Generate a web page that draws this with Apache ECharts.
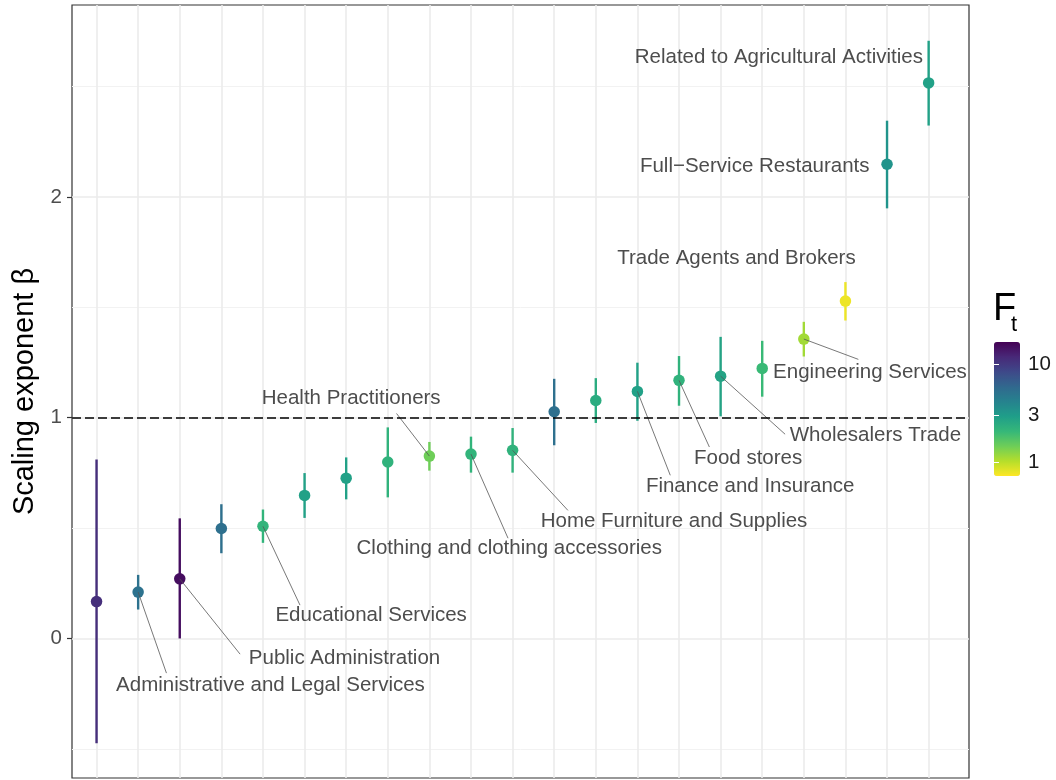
<!DOCTYPE html>
<html>
<head>
<meta charset="utf-8">
<script src="https://cdn.jsdelivr.net/npm/echarts@6/dist/echarts.min.js"></script>
<style>
html, body { margin: 0; padding: 0; background: #fff; }
#chart { width: 1056px; height: 780px; }
</style>
</head>
<body>
<div id="chart"></div>
<script>
'use strict';

// sectors sorted by scaling exponent (only some carry a label)
var sectors = [null, 'Administrative and Legal Services', 'Public Administration', null,
    'Educational Services', null, null, null, 'Health Practitioners',
    'Clothing and clothing accessories', 'Home Furniture and Supplies', null, null,
    'Finance and Insurance', 'Food stores', 'Wholesalers Trade', null,
    'Engineering Services', 'Trade Agents and Brokers', 'Full\u2212Service Restaurants',
    'Related to Agricultural Activities'];
var betas = [0.167, 0.21, 0.27, 0.498, 0.508, 0.648, 0.726, 0.799, 0.826, 0.835, 0.852,
    1.027, 1.078, 1.119, 1.169, 1.188, 1.223, 1.356, 1.528, 2.148, 2.516];
var lows = [-0.475, 0.131, 0.0, 0.386, 0.433, 0.546, 0.630, 0.639, 0.760, 0.751, 0.751,
    0.875, 0.976, 0.986, 1.054, 1.006, 1.095, 1.277, 1.440, 1.948, 2.323];
var highs = [0.811, 0.288, 0.544, 0.608, 0.584, 0.749, 0.820, 0.956, 0.890, 0.914, 0.953,
    1.176, 1.179, 1.249, 1.279, 1.366, 1.348, 1.434, 1.614, 2.345, 2.707];
var ft = [11, 5.1, 15, 5.3, 2.15, 2.8, 2.8, 2.2, 1.45, 2.15, 2.2,
    5.3, 2.4, 2.8, 2.2, 2.7, 2.0, 1.12, 0.78, 3.3, 2.8];
var ftTicks = [1, 3, 10];

// where the repelled labels sit (data units): [textX, textY, segmentEndX, segmentEndY]
var labelSpots = {
    1: [5.18, -0.214, 2.68, -0.157],
    2: [6.96, -0.089, 4.45, -0.071],
    4: [7.60, 0.105, 5.89, 0.151],
    8: [7.12, 1.087, 8.21, 1.019],
    9: [10.92, 0.409, 10.89, 0.454],
    10: [14.88, 0.531, 12.33, 0.580],
    13: [16.71, 0.691, 14.79, 0.739],
    14: [16.66, 0.814, 15.73, 0.867],
    15: [19.72, 0.918, 17.55, 0.925],
    17: [19.59, 1.205, 19.31, 1.264],
    18: [16.38, 1.721],
    19: [16.82, 2.137],
    20: [17.40, 2.630]
};

var viridis = ['#440154', '#482878', '#3e4989', '#31688e', '#26828e',
    '#1f9e89', '#35b779', '#6ece58', '#b5de2b', '#fde725'];

var xs = [];
var data = [];
for (var i = 0; i < betas.length; i++) {
    xs.push(i + 1);
    data.push([i + 1, betas[i], lows[i], highs[i], Math.log10(ft[i])]);
}

var labelled = [];
sectors.forEach(function(name, i) {
    if (name) labelled.push(i);
});

var ftMin = Math.log10(0.72), ftMax = Math.log10(16.75);
var ftTickVals = ftTicks.map(function(v) { return Math.log10(v); });

var chart = echarts.init(document.getElementById('chart'));

var option = {
    backgroundColor: '#fff',
    animation: false,
    textStyle: { fontFamily: 'Liberation Sans, Arial, sans-serif' },
    grid: [
        { left: 72, top: 5, right: 87, bottom: 2, show: true, borderColor: '#333', borderWidth: 1.2, backgroundColor: '#fff' },
        { left: 994, top: 342, width: 26, height: 134, show: false }
    ],
    xAxis: [
        {
            type: 'value', gridIndex: 0, min: 0.41, max: 21.97,
            axisLine: { show: false },
            axisTick: { show: false, customValues: xs },
            axisLabel: { show: false, customValues: xs },
            splitLine: { show: true, lineStyle: { color: '#ebebeb', width: 1.6 } }
        },
        { type: 'value', gridIndex: 1, min: 0, max: 1, show: false }
    ],
    yAxis: [
        {
            type: 'value', gridIndex: 0, min: -0.632, max: 2.869,
            name: 'Scaling exponent \u03b2', nameLocation: 'middle', nameGap: 30,
            nameTextStyle: { fontSize: 29, color: '#000' },
            axisLine: { show: false },
            axisTick: { show: true, length: 5, customValues: [0, 1, 2], lineStyle: { color: '#333', width: 1.2 } },
            axisLabel: { fontSize: 20.5, color: '#4d4d4d', margin: 10, customValues: [0, 1, 2] },
            splitLine: { show: true, lineStyle: { color: '#ebebeb', width: 1.6 } }
        },
        {
            type: 'value', gridIndex: 0, min: -0.632, max: 2.869, position: 'left',
            axisLine: { show: false },
            axisTick: { show: false, customValues: [-0.5, 0.5, 1.5, 2.5] },
            axisLabel: { show: false, customValues: [-0.5, 0.5, 1.5, 2.5] },
            splitLine: { show: true, lineStyle: { color: '#f2f2f2', width: 1 } }
        },
        {
            type: 'value', gridIndex: 1, min: ftMin, max: ftMax, position: 'right', z: 10,
            axisLine: { show: false },
            axisTick: { show: true, inside: true, length: 5, customValues: ftTickVals, lineStyle: { color: '#fff', width: 1 } },
            axisLabel: {
                fontSize: 20.5, color: '#1a1a1a', margin: 8, customValues: ftTickVals,
                formatter: function(v) { return String(Math.round(Math.pow(10, v))); }
            },
            splitLine: { show: false }
        },
        {
            type: 'value', gridIndex: 1, min: ftMin, max: ftMax, position: 'left', z: 10,
            axisLine: { show: false },
            axisTick: { show: true, inside: true, length: 5, customValues: ftTickVals, lineStyle: { color: '#fff', width: 1 } },
            axisLabel: { show: false, customValues: ftTickVals },
            splitLine: { show: false }
        }
    ],
    visualMap: {
        type: 'continuous',
        seriesIndex: [0, 1],
        dimension: 4,
        min: ftMin,
        max: ftMax,
        orient: 'vertical',
        calculable: false,
        hoverLink: false,
        itemWidth: 26,
        itemHeight: 134,
        left: 994,
        top: 342,
        padding: 0,
        inRange: { color: viridis.slice().reverse() }
    },
    graphic: [
        { type: 'text', left: 993, top: 291, style: { text: 'F', fontSize: 38, fill: '#000', fontFamily: 'Liberation Sans, Arial, sans-serif' } },
        { type: 'text', left: 1011, top: 314, style: { text: 't', fontSize: 22, fill: '#000', fontFamily: 'Liberation Sans, Arial, sans-serif' } }
    ],
    series: [
        {
            // error bars
            type: 'custom',
            xAxisIndex: 0, yAxisIndex: 0,
            data: data,
            z: 2,
            renderItem: function(params, api) {
                var top = api.coord([api.value(0), api.value(3)]);
                var bot = api.coord([api.value(0), api.value(2)]);
                return {
                    type: 'line',
                    shape: { x1: top[0], y1: top[1], x2: bot[0], y2: bot[1] },
                    style: { stroke: api.visual('color'), lineWidth: 2.4 }
                };
            }
        },
        {
            type: 'scatter',
            xAxisIndex: 0, yAxisIndex: 0,
            data: data,
            symbolSize: 11.5,
            itemStyle: { opacity: 1 },
            z: 3,
            markLine: {
                silent: true,
                symbol: 'none',
                label: { show: false },
                lineStyle: { color: '#000', type: [9, 4], width: 1.5 },
                data: [{ yAxis: 1 }]
            }
        },
        {
            // repelled labels with leader segments
            type: 'custom',
            xAxisIndex: 0, yAxisIndex: 0,
            data: labelled,
            z: 4,
            silent: true,
            renderItem: function(params, api) {
                var i = labelled[params.dataIndex];
                var spot = labelSpots[i];
                var children = [];
                if (spot.length > 2) {
                    var p = api.coord([i + 1, betas[i]]);
                    var e = api.coord([spot[2], spot[3]]);
                    children.push({
                        type: 'line',
                        shape: { x1: p[0], y1: p[1], x2: e[0], y2: e[1] },
                        style: { stroke: '#555', lineWidth: 0.8 }
                    });
                }
                var t = api.coord([spot[0], spot[1]]);
                children.push({
                    type: 'text',
                    x: t[0], y: t[1],
                    style: {
                        text: sectors[i], fontSize: 20.5, fill: '#4d4d4d',
                        align: 'center', verticalAlign: 'middle',
                        fontFamily: 'Liberation Sans, Arial, sans-serif'
                    }
                });
                return { type: 'group', children: children };
            }
        }
    ]
};

chart.setOption(option);
</script>
</body>
</html>
